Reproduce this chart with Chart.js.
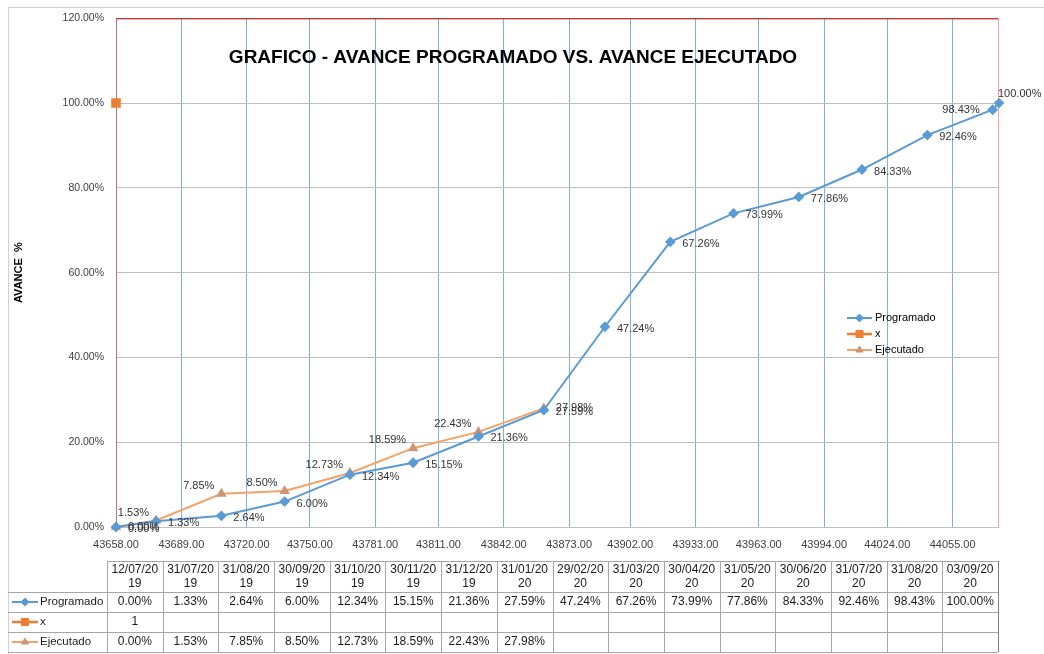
<!DOCTYPE html>
<html>
<head>
<meta charset="utf-8">
<script src="https://cdn.jsdelivr.net/npm/chart.js@4.4.1/dist/chart.umd.min.js"></script>
<style>
  html, body { margin: 0; padding: 0; background: #fff; }
</style>
</head>
<body>
<canvas id="myChart" width="1044" height="654"></canvas>
<script>
// fechas de corte (dd/mm/aaaa)
const fechas = ['12/07/2019', '31/07/2019', '31/08/2019', '30/09/2019', '31/10/2019', '30/11/2019',
    '31/12/2019', '31/01/2020', '29/02/2020', '31/03/2020', '30/04/2020', '31/05/2020',
    '30/06/2020', '31/07/2020', '31/08/2020', '03/09/2020'];
const programado = [0, 0.0133, 0.0264, 0.0600, 0.1234, 0.1515, 0.2136, 0.2759,
    0.4724, 0.6726, 0.7399, 0.7786, 0.8433, 0.9246, 0.9843, 1.0000];
const serieX = [1];
const ejecutado = [0, 0.0153, 0.0785, 0.0850, 0.1273, 0.1859, 0.2243, 0.2798];
const ticksX = [43658, 43689, 43720, 43750, 43781, 43811, 43842, 43873, 43902, 43933, 43963, 43994, 44024, 44055];

const FONT = '"Liberation Sans", Arial, sans-serif';

// fecha -> numero de serie de Excel
function serial(f) {
    const [d, m, y] = f.split('/').map(Number);
    return Math.round((Date.UTC(y, m - 1, d) - Date.UTC(1899, 11, 30)) / 86400000);
}
const pct = v => (v * 100).toFixed(2) + '%';
const toPoints = arr => arr.map((v, i) => ({ x: serial(fechas[i]), y: v }));

const extras = {
    id: 'extras',
    beforeDatasetsDraw(chart) {
        const { ctx, chartArea: a } = chart;
        ctx.save();
        ctx.lineWidth = 1;
        ctx.strokeStyle = '#C00000';
        ctx.beginPath(); ctx.moveTo(a.left, a.top + 0.5); ctx.lineTo(a.right, a.top + 0.5); ctx.stroke();
        ctx.strokeStyle = '#FF9B9B';
        ctx.beginPath(); ctx.moveTo(a.right - 0.5, a.top); ctx.lineTo(a.right - 0.5, a.bottom); ctx.stroke();
        ctx.strokeStyle = '#B87474';
        ctx.beginPath(); ctx.moveTo(a.left + 0.5, a.top); ctx.lineTo(a.left + 0.5, a.bottom); ctx.stroke();
        ctx.restore();
    },
    afterDatasetsDraw(chart) {
        const { ctx } = chart;
        ctx.save();
        ctx.font = '11px ' + FONT;
        ctx.fillStyle = '#333';
        ctx.textBaseline = 'middle';
        // Programado: a la derecha, los dos ultimos ajustados
        const mp = chart.getDatasetMeta(0).data;
        mp.forEach((p, i) => {
            const t = pct(programado[i]);
            if (i === mp.length - 1) {
                ctx.textAlign = 'left'; ctx.fillText(t, p.x - 1, p.y - 9);
            } else if (i === mp.length - 2) {
                ctx.textAlign = 'right'; ctx.fillText(t, p.x - 13, p.y);
            } else {
                ctx.textAlign = 'left'; ctx.fillText(t, p.x + 12, p.y + 2);
            }
        });
        // Ejecutado: a la izquierda y arriba, extremos a la derecha
        const me = chart.getDatasetMeta(2).data;
        me.forEach((p, i) => {
            const t = pct(ejecutado[i]);
            if (i === 0 || i === me.length - 1) {
                ctx.textAlign = 'left'; ctx.fillText(t, p.x + 12, p.y);
            } else {
                ctx.textAlign = 'right'; ctx.fillText(t, p.x - 7, p.y - 8);
            }
        });
        ctx.restore();
    },
    afterDraw(chart) {
        const { ctx, chartArea: a } = chart;
        const W = chart.width, H = chart.height;
        ctx.save();
        // marco exterior
        ctx.strokeStyle = '#D0D0D0';
        ctx.lineWidth = 1;
        ctx.strokeRect(8.5, 7.5, W + 10, H + 10);

        // titulo
        ctx.fillStyle = '#000';
        ctx.font = 'bold 19px ' + FONT;
        ctx.textAlign = 'center';
        ctx.textBaseline = 'middle';
        ctx.fillText('GRAFICO - AVANCE PROGRAMADO VS. AVANCE EJECUTADO', 513, 58);

        // titulo eje Y
        ctx.save();
        ctx.translate(19, (a.top + a.bottom) / 2);
        ctx.rotate(-Math.PI / 2);
        ctx.font = 'bold 11px ' + FONT;
        ctx.fillText('AVANCE  %', 0, 0);
        ctx.restore();

        // leyenda
        const sets = chart.data.datasets;
        ctx.font = '11px ' + FONT;
        ctx.textAlign = 'left';
        sets.forEach((ds, i) => {
            const y = 318 + i * 16;
            drawKey(ctx, ds, 847, 872, y);
            ctx.fillStyle = '#000';
            ctx.fillText(ds.label, 875, y);
        });

        // tabla de datos
        const tl = a.left - 9, tr = a.right - 1;
        const cw = (tr - tl) / fechas.length;
        const top = 561, hh = 31, rh = 20;
        const bottom = top + hh + rh * 3;
        ctx.strokeStyle = '#A6A6A6';
        ctx.beginPath();
        ctx.moveTo(tl, top + 0.5); ctx.lineTo(tr, top + 0.5);
        for (let r = 0; r <= 3; r++) {
            const y = Math.round(top + hh + r * rh) + 0.5;
            ctx.moveTo(8, y); ctx.lineTo(tr, y);
        }
        for (let c = 0; c < fechas.length; c++) {
            const x = Math.round(tl + c * cw) + 0.5;
            ctx.moveTo(x, top); ctx.lineTo(x, bottom);
        }
        ctx.stroke();
        ctx.strokeStyle = '#7F7F7F';
        ctx.beginPath(); ctx.moveTo(tr + 0.5, top); ctx.lineTo(tr + 0.5, bottom); ctx.stroke();

        ctx.fillStyle = '#1A1A1A';
        ctx.textAlign = 'center';
        ctx.font = '12px ' + FONT;
        fechas.forEach((f, c) => {
            const cx = tl + (c + 0.5) * cw;
            ctx.fillText(f.slice(0, 8), cx, top + 9);
            ctx.fillText(f.slice(8), cx, top + 23);
        });
        const filas = [
            programado.map(pct),
            serieX.map(String),
            ejecutado.map(pct)
        ];
        filas.forEach((fila, r) => {
            const y = top + hh + r * rh + rh / 2;
            ctx.textAlign = 'center';
            ctx.fillStyle = '#1A1A1A';
            ctx.font = '12px ' + FONT;
            fila.forEach((t, c) => ctx.fillText(t, tl + (c + 0.5) * cw, y));
            drawKey(ctx, sets[r], 12, 38, y);
            ctx.textAlign = 'left';
            ctx.fillStyle = '#1A1A1A';
            ctx.font = '11.5px ' + FONT;
            ctx.fillText(sets[r].label, 40, y);
        });
        ctx.restore();
    }
};

function drawKey(ctx, ds, x0, x1, y) {
    ctx.save();
    ctx.strokeStyle = ds.borderColor;
    ctx.lineWidth = ds.borderWidth || 2;
    ctx.beginPath(); ctx.moveTo(x0, y); ctx.lineTo(x1, y); ctx.stroke();
    ctx.fillStyle = ds.pointBackgroundColor;
    ctx.strokeStyle = ds.pointBorderColor;
    ctx.lineWidth = 1;
    Chart.helpers.drawPoint(ctx, { pointStyle: ds.pointStyle, radius: ds.pointRadius, rotation: 0, borderWidth: 1 },
        (x0 + x1) / 2, y);
    ctx.restore();
}

const myCanvas = document.getElementById('myChart').getContext('2d');

const myChart = new Chart(myCanvas, {
    type: 'line',
    data: {
        datasets: [{
            label: 'Programado',
            data: toPoints(programado),
            borderColor: '#5B9BD5',
            backgroundColor: '#5B9BD5',
            pointBackgroundColor: '#5B9BD5',
            pointBorderColor: '#5B9BD5',
            pointStyle: 'rectRot',
            pointRadius: 4,
            borderWidth: 2,
            clip: false,
        }, {
            label: 'x',
            data: toPoints(serieX),
            borderColor: '#ED7D31',
            backgroundColor: '#ED7D31',
            pointBackgroundColor: '#ED7D31',
            pointBorderColor: '#ED7D31',
            pointStyle: 'rect',
            pointRadius: 5,
            borderWidth: 2.5,
            clip: false,
        }, {
            label: 'Ejecutado',
            data: toPoints(ejecutado),
            borderColor: '#F4A266',
            backgroundColor: '#F4A266',
            pointBackgroundColor: '#CF9473',
            pointBorderColor: '#CF9473',
            pointStyle: 'triangle',
            pointRadius: 4,
            borderWidth: 2,
            clip: false,
        }],
    },
    options: {
        responsive: false,
        animation: false,
        layout: { padding: { top: 13, right: 45, left: 0, bottom: 0 } },
        scales: {
            x: {
                type: 'linear',
                min: serial(fechas[0]),
                max: serial(fechas[fechas.length - 1]),
                afterBuildTicks: s => { s.ticks = ticksX.map(v => ({ value: v })); },
                afterFit: s => { s.height = 127; },
                grid: { color: '#7FB0E0', lineWidth: 1, drawTicks: false },
                border: { display: false },
                ticks: {
                    autoSkip: false,
                    maxRotation: 0,
                    padding: 11,
                    color: '#404040',
                    font: { size: 11, family: FONT },
                    callback: v => Number(v).toFixed(2),
                },
            },
            y: {
                min: 0,
                max: 1.2,
                afterFit: s => { s.width = 116; },
                grid: { color: '#BFBFBF', lineWidth: 1, drawTicks: false },
                border: { display: false },
                ticks: {
                    stepSize: 0.2,
                    padding: 12,
                    color: '#404040',
                    font: { size: 10.5, family: FONT },
                    callback: v => pct(v),
                },
            },
        },
        plugins: {
            legend: { display: false },
            tooltip: { enabled: false },
        },
    },
    plugins: [extras],
});
</script>
</body>
</html>
